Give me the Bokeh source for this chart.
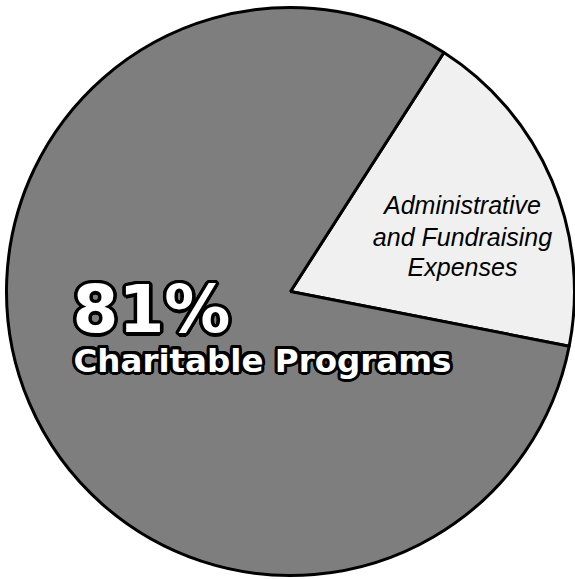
import math
from bokeh.plotting import figure
from bokeh.models import ColumnDataSource, Range1d
from bokeh.core.properties import value
from bokeh.embed import file_html
from bokeh.resources import INLINE

# ---- data ----
categories = ["Administrative and Fundraising Expenses", "Charitable Programs"]
shares = [19, 81]
big_label = "81%"
big_caption = "Charitable Programs"
small_label_lines = ["Administrative", "and Fundraising", "Expenses"]

# ---- layout ----
W, H = 575, 579
cx, cy, r = 290, 579 - 291, 284
start_deg = -11.1
colors = ["#f0f0f0", "#7e7e7e"]

starts, ends = [], []
a = math.radians(start_deg)
total = sum(shares)
for s in shares:
    starts.append(a)
    a += 2 * math.pi * s / total
    ends.append(a)

src = ColumnDataSource(dict(cat=categories, share=shares, start=starts, end=ends, color=colors))

p = figure(width=W, height=H, x_range=Range1d(0, W), y_range=Range1d(0, H),
           output_backend="svg", toolbar_location=None, min_border=0)
p.axis.visible = False
p.grid.visible = False
p.outline_line_color = None
p.background_fill_color = "white"
p.border_fill_color = "white"

p.wedge(x=cx, y=cy, radius=r, start_angle="start", end_angle="end", source=src,
        fill_color="color", line_color="black", line_width=3)


def outlined(x, y, txt, size, align, font="DejaVu Sans", rad=3):
    n = 16
    for k in range(n):
        t = 2 * math.pi * k / n
        p.text(x=[x], y=[y], text=[txt], x_offset=rad * math.cos(t), y_offset=rad * math.sin(t),
               text_color="black", text_font=value(font), text_font_style="bold",
               text_font_size=f"{size}px", text_align=align, text_baseline="alphabetic")
    p.text(x=[x], y=[y], text=[txt], text_color="white", text_font=value(font),
           text_font_style="bold", text_font_size=f"{size}px", text_align=align,
           text_baseline="alphabetic")


outlined(72, 579 - 309, big_label, 66, "left", rad=3.5)
outlined(73, 579 - 360, big_caption, 32.5, "left")

label_y = [579 - 204, 579 - 236, 579 - 266]
p.text(x=[462] * 3, y=label_y, text=small_label_lines, text_color="black",
       text_font=value("Liberation Sans"), text_font_style="italic",
       text_font_size="25px", text_align="center", text_baseline="alphabetic")

open("out.html", "w").write(file_html(p, INLINE))
